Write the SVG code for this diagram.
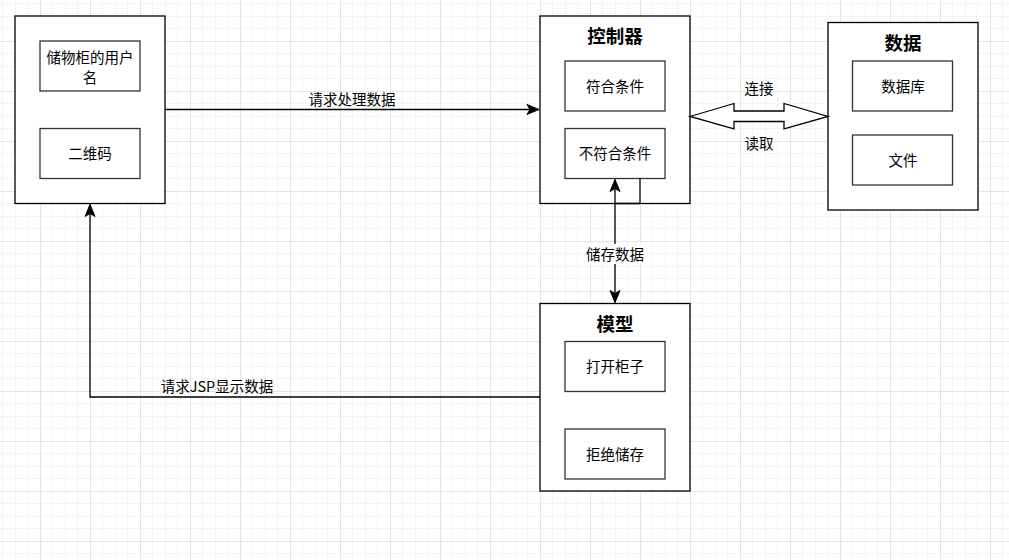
<svg xmlns="http://www.w3.org/2000/svg" width="1009" height="560" viewBox="0 0 1009 560">
<defs>
<pattern id="grid" patternUnits="userSpaceOnUse" x="-10" y="-9" width="50" height="50">
<rect x="12" y="0" width="1" height="50" fill="#f4f4f4"/>
<rect x="25" y="0" width="1" height="50" fill="#f4f4f4"/>
<rect x="37" y="0" width="1" height="50" fill="#f4f4f4"/>
<rect x="0" y="12" width="50" height="1" fill="#f4f4f4"/>
<rect x="0" y="25" width="50" height="1" fill="#f4f4f4"/>
<rect x="0" y="37" width="50" height="1" fill="#f4f4f4"/>
<rect x="0" y="0" width="1" height="50" fill="#e4e4e4"/>
<rect x="0" y="0" width="50" height="1" fill="#e4e4e4"/>
</pattern>
<marker id="arr" markerUnits="userSpaceOnUse" viewBox="0 0 14 12" markerWidth="14" markerHeight="12" refX="13" refY="6" orient="auto-start-reverse">
<path d="M1,1 L13,6 L1,11 L4,6 Z" fill="#000" stroke="#000" stroke-width="1"/>
</marker>
</defs>
<style>
.outer{fill:#fff;stroke:#000;stroke-width:1.3}
.inner{fill:#fff;stroke:#333;stroke-width:1.3}
.t{font-family:"Noto Sans CJK SC","Liberation Sans",sans-serif;font-size:14.5px;fill:#000;text-anchor:middle;dominant-baseline:central}
.title{font-family:"Noto Sans CJK SC","Liberation Sans",sans-serif;font-size:18.5px;font-weight:bold;fill:#000;text-anchor:middle;dominant-baseline:central}
.edge{fill:none;stroke:#000;stroke-width:1.3}
</style>
<rect width="1009" height="560" fill="#fff"/>
<rect width="1009" height="560" fill="url(#grid)"/>

<g id="user">
<rect class="outer" x="15" y="16" width="150" height="187.5"/>
<rect class="inner" x="40" y="41" width="100" height="50"/>
<text class="t" x="90" y="56">储物柜的用户</text>
<text class="t" x="90" y="76.5">名</text>
<rect class="inner" x="40" y="128.5" width="100" height="50"/>
<text class="t" x="90" y="152.5">二维码</text>
</g>

<g id="controller">
<rect class="outer" x="540" y="16" width="150" height="187.5"/>
<text class="title" x="615" y="35">控制器</text>
<rect class="inner" x="565" y="61" width="100" height="50"/>
<text class="t" x="615" y="85.5">符合条件</text>
<rect class="inner" x="565" y="128.5" width="100" height="50"/>
<text class="t" x="615" y="152.5">不符合条件</text>
</g>

<g id="data">
<rect class="outer" x="828" y="22.5" width="150" height="187.5"/>
<text class="title" x="903" y="41.5">数据</text>
<rect class="inner" x="852.5" y="61" width="100" height="50"/>
<text class="t" x="903" y="85.5">数据库</text>
<rect class="inner" x="852.5" y="135" width="100" height="50"/>
<text class="t" x="903" y="159.5">文件</text>
</g>

<g id="model">
<rect class="outer" x="540" y="303.5" width="150" height="187.5"/>
<text class="title" x="615" y="323">模型</text>
<rect class="inner" x="565" y="341.5" width="100" height="50"/>
<text class="t" x="615" y="365.5">打开柜子</text>
<rect class="inner" x="565" y="429" width="100" height="50"/>
<text class="t" x="615" y="453.5">拒绝储存</text>
</g>

<g id="connectors">
<line class="edge" x1="165" y1="109.5" x2="539" y2="109.5" marker-end="url(#arr)"/>
<text class="t" x="352" y="98.5">请求处理数据</text>

<path d="M690,116.5 L734,103.5 L734,111 L784,111 L784,103.5 L828,116.5 L784,129 L784,121.5 L734,121.5 L734,129 Z" fill="#fff" stroke="#000" stroke-width="1.3"/>
<text class="t" x="759" y="87.5">连接</text>
<text class="t" x="759" y="142.5">读取</text>

<polyline class="edge" points="615,203.5 640,203.5 640,178.5"/>
<line class="edge" x1="615" y1="179.5" x2="615" y2="302.5" marker-start="url(#arr)" marker-end="url(#arr)"/>
<rect x="584" y="244" width="62" height="20" fill="#fff"/>
<text class="t" x="615" y="253.5">储存数据</text>

<polyline class="edge" points="540,397 90,397 90,204.5" marker-end="url(#arr)"/>
<text class="t" x="217" y="385.5">请求JSP显示数据</text>
</g>
</svg>
